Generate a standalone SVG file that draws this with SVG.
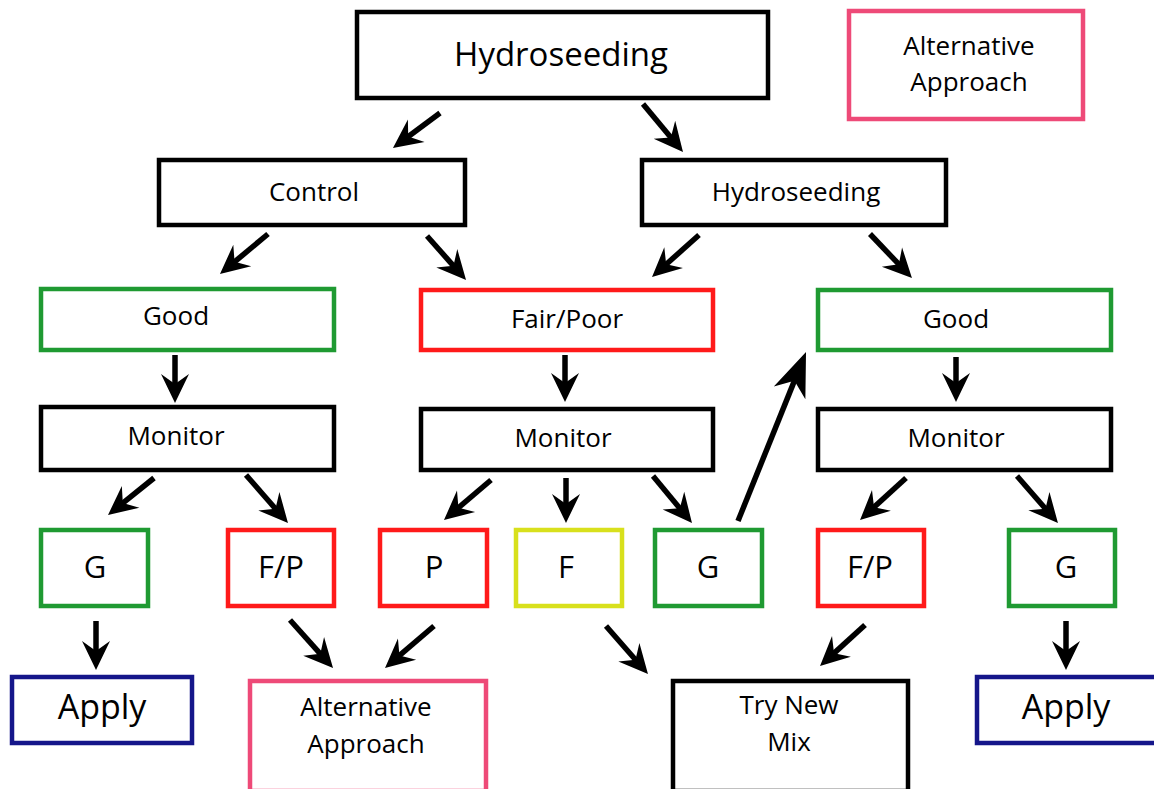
<svg xmlns="http://www.w3.org/2000/svg" width="1154" height="789" viewBox="0 0 1154 789">
<style>
rect{fill:#fff;stroke-width:4.5}
.k{stroke:#000}.g{stroke:#1f9a32}.r{stroke:#ff1a1a}.y{stroke:#d8e01c}.b{stroke:#15168a}.p{stroke:#ee4a78}
text{font-family:"Open Sans","Liberation Sans",sans-serif;fill:#000;text-anchor:middle}
.t32{font-size:33px}.t24{font-size:26px}.t30{font-size:31px}.ta{font-size:34px}
#connectors line{stroke:#000;stroke-width:5.5;marker-end:url(#ah)}
</style>
<defs>
<marker id="ah" markerUnits="userSpaceOnUse" orient="auto" refX="0" refY="0" markerWidth="60" markerHeight="60" overflow="visible"><path d="M15,0 L-14,-14 L-4,0 L-14,14 Z" fill="#000"/></marker>
<marker id="ahb" markerUnits="userSpaceOnUse" orient="auto" refX="0" refY="0" markerWidth="80" markerHeight="80" overflow="visible"><path d="M22,0 L-22,-17 L-9,0 L-22,17 Z" fill="#000"/></marker>
</defs>
<rect width="1154" height="789" style="fill:#fff;stroke:none"/>
<g id="hydroseeding-top"><rect class="k" x="357" y="12" width="411" height="86"/><text class="t32" x="561" y="66">Hydroseeding</text></g>
<g id="alt-top"><rect class="p" x="849" y="11" width="234" height="108"/><text class="t24" x="969" y="55">Alternative</text><text class="t24" x="969" y="91">Approach</text></g>
<g id="control"><rect class="k" x="159" y="160" width="306" height="65"/><text class="t24" x="314" y="201">Control</text></g>
<g id="hydroseeding-2"><rect class="k" x="642" y="160" width="304" height="65"/><text class="t24" x="796" y="201">Hydroseeding</text></g>
<g id="good-left"><rect class="g" x="41" y="289" width="293" height="61"/><text class="t24" x="176" y="325">Good</text></g>
<g id="fair-poor"><rect class="r" x="421" y="290" width="292" height="60"/><text class="t24" x="567" y="328">Fair/Poor</text></g>
<g id="good-right"><rect class="g" x="818" y="290" width="293" height="60"/><text class="t24" x="956" y="328">Good</text></g>
<g id="monitor-left"><rect class="k" x="41" y="407" width="293" height="63"/><text class="t24" x="176" y="445">Monitor</text></g>
<g id="monitor-mid"><rect class="k" x="421" y="409" width="292" height="61"/><text class="t24" x="563" y="447">Monitor</text></g>
<g id="monitor-right"><rect class="k" x="818" y="409" width="293" height="61"/><text class="t24" x="956" y="447">Monitor</text></g>
<g id="g1"><rect class="g" x="41" y="530" width="107" height="76"/><text class="t30" x="95" y="578">G</text></g>
<g id="fp1"><rect class="r" x="228" y="530" width="106" height="76"/><text class="t30" x="281" y="578">F/P</text></g>
<g id="p"><rect class="r" x="380" y="530" width="107" height="76"/><text class="t30" x="434" y="578">P</text></g>
<g id="f"><rect class="y" x="516" y="530" width="106" height="76"/><text class="t30" x="566" y="578">F</text></g>
<g id="g2"><rect class="g" x="655" y="530" width="107" height="76"/><text class="t30" x="708" y="578">G</text></g>
<g id="fp2"><rect class="r" x="818" y="530" width="106" height="76"/><text class="t30" x="870" y="578">F/P</text></g>
<g id="g3"><rect class="g" x="1009" y="530" width="106" height="76"/><text class="t30" x="1066" y="578">G</text></g>
<g id="apply-left"><rect class="b" x="12" y="677" width="180" height="66"/><text class="ta" x="102" y="719">Apply</text></g>
<g id="alt-bottom"><rect class="p" x="250" y="681" width="236" height="110"/><text class="t24" x="366" y="716">Alternative</text><text class="t24" x="366" y="753">Approach</text></g>
<g id="try-new-mix"><rect class="k" x="673" y="681" width="235" height="110"/><text class="t24" x="789" y="714">Try New</text><text class="t24" x="789" y="751">Mix</text></g>
<g id="apply-right"><rect class="b" x="977" y="677" width="200" height="66"/><text class="ta" x="1066" y="719">Apply</text></g>
<g id="connectors">
<line x1="440" y1="113" x2="405" y2="139"/>
<line x1="643" y1="104" x2="673.4" y2="140.5"/>
<line x1="268" y1="234" x2="231.5" y2="264.4"/>
<line x1="427" y1="236" x2="456.1" y2="268.8"/>
<line x1="699" y1="235" x2="663.2" y2="267"/>
<line x1="870" y1="234" x2="901.6" y2="267.2"/>
<line x1="175" y1="355" x2="175" y2="388"/>
<line x1="565" y1="355" x2="565" y2="387"/>
<line x1="956" y1="357" x2="956" y2="387"/>
<line x1="154" y1="478" x2="119.7" y2="505.6"/>
<line x1="246" y1="475" x2="278.1" y2="511.7"/>
<line x1="491" y1="480" x2="455.4" y2="510.3"/>
<line x1="566" y1="478" x2="566" y2="508"/>
<line x1="653" y1="476" x2="682.4" y2="511.4"/>
<line x1="738" y1="521" x2="797.8" y2="372.4" style="marker-end:url(#ahb)"/>
<line x1="906" y1="478" x2="871.1" y2="509.9"/>
<line x1="1017" y1="476" x2="1048.1" y2="511.7"/>
<line x1="96" y1="621" x2="96" y2="655"/>
<line x1="290" y1="620" x2="323" y2="656.8"/>
<line x1="434" y1="626" x2="396.4" y2="658.2"/>
<line x1="606" y1="626" x2="638.1" y2="662.7"/>
<line x1="865" y1="625" x2="831.1" y2="655.9"/>
<line x1="1066" y1="621" x2="1066" y2="655"/>
</g>
</svg>
